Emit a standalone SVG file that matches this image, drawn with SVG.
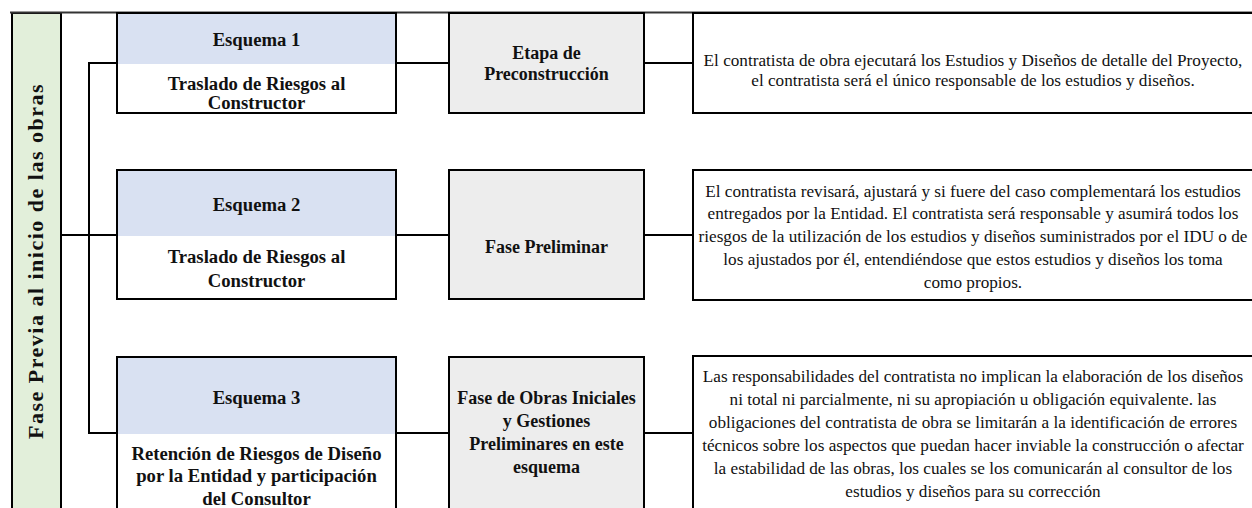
<svg xmlns="http://www.w3.org/2000/svg" width="1252" height="508" viewBox="0 0 1252 508">
<style>
.box{stroke:#000;stroke-width:2;fill:#fff}
.mid{stroke:#000;stroke-width:2;fill:#EDEDED}
.hdr{fill:#D9E1F2}
.con{stroke:#000;stroke-width:2;fill:none}
.lb{font-family:"Liberation Serif","Times New Roman",serif;font-weight:bold;font-size:18.7px;fill:#111;text-anchor:middle}
.mb{font-family:"Liberation Serif","Times New Roman",serif;font-weight:bold;font-size:18px;fill:#111;text-anchor:middle}
.ds{font-family:"Liberation Serif","Times New Roman",serif;font-size:17.2px;fill:#111;text-anchor:middle}
</style>
<rect width="1252" height="508" fill="#fff"/>
<g id="phase">
<rect x="12" y="13" width="49" height="500" fill="#E2EFDA" stroke="#000" stroke-width="2"/>
<text transform="translate(43,261) rotate(-90)" style="font-family:'Liberation Serif','Times New Roman',serif;font-weight:bold;font-size:22px;letter-spacing:1.5px;fill:#111;text-anchor:middle">Fase Previa al inicio de las obras</text>
</g>
<line x1="10" y1="12.5" x2="1252" y2="12.5" stroke="#333" stroke-width="2"/>
<g id="connectors">
<path class="con" d="M117 63H89V433H117"/>
<path class="con" d="M61 235H117"/>
<path class="con" d="M396 63H449M644 63H693"/>
<path class="con" d="M396 235H449M644 235H693"/>
<path class="con" d="M396 433H449M644 433H693"/>
</g>
<g id="esquema1">
<rect class="box" x="117" y="13" width="279" height="100"/>
<rect class="hdr" x="118" y="14" width="277" height="50"/>
<text class="lb" x="256.5" y="46">Esquema 1</text>
<text class="lb" x="256.5" y="89.5">Traslado de Riesgos al</text>
<text class="lb" x="256.5" y="109">Constructor</text>
</g>
<g id="etapa1">
<rect class="mid" x="449" y="13" width="195" height="100"/>
<text class="mb" x="546.5" y="59">Etapa de</text>
<text class="mb" x="546.5" y="80">Preconstrucción</text>
</g>
<g id="desc1">
<rect class="box" x="693" y="13" width="570" height="100"/>
<text class="ds" x="973" y="66">El contratista de obra ejecutará los Estudios y Diseños de detalle del Proyecto,</text>
<text class="ds" x="973" y="86">el contratista será el único responsable de los estudios y diseños.</text>
</g>
<g id="esquema2">
<rect class="box" x="117" y="170" width="279" height="129"/>
<rect class="hdr" x="118" y="171" width="277" height="65"/>
<text class="lb" x="256.5" y="211">Esquema  2</text>
<text class="lb" x="256.5" y="263">Traslado de Riesgos al</text>
<text class="lb" x="256.5" y="287">Constructor</text>
</g>
<g id="etapa2">
<rect class="mid" x="449" y="170" width="195" height="129"/>
<text class="mb" x="546.5" y="253">Fase Preliminar</text>
</g>
<g id="desc2">
<rect class="box" x="693" y="170" width="570" height="130"/>
<text class="ds" x="973" y="197">El contratista revisará, ajustará y si fuere del caso complementará los estudios</text>
<text class="ds" x="973" y="219">entregados por la Entidad. El contratista será responsable y asumirá todos los</text>
<text class="ds" x="973" y="242">riesgos de la utilización de los estudios y diseños suministrados por el IDU o de</text>
<text class="ds" x="973" y="265">los ajustados por él, entendiéndose que estos estudios y diseños los toma</text>
<text class="ds" x="973" y="288">como propios.</text>
</g>
<g id="esquema3">
<rect class="box" x="117" y="357" width="279" height="170"/>
<rect class="hdr" x="118" y="358" width="277" height="76"/>
<text class="lb" x="256.5" y="404">Esquema 3</text>
<text class="lb" x="256.5" y="460">Retención de Riesgos de Diseño</text>
<text class="lb" x="256.5" y="482">por la Entidad y participación</text>
<text class="lb" x="256.5" y="505">del Consultor</text>
</g>
<g id="etapa3">
<rect class="mid" x="449" y="357" width="195" height="170"/>
<text class="mb" x="546.5" y="404">Fase de Obras Iniciales</text>
<text class="mb" x="546.5" y="427">y Gestiones</text>
<text class="mb" x="546.5" y="450">Preliminares en este</text>
<text class="mb" x="546.5" y="473">esquema</text>
</g>
<g id="desc3">
<rect class="box" x="693" y="356" width="570" height="170"/>
<text class="ds" x="973" y="382">Las responsabilidades del contratista no implican la elaboración de los diseños</text>
<text class="ds" x="973" y="405">ni total ni parcialmente, ni su apropiación u obligación equivalente. las</text>
<text class="ds" x="973" y="428">obligaciones del contratista de obra se limitarán a la identificación de errores</text>
<text class="ds" x="973" y="451">técnicos sobre los aspectos que puedan hacer inviable la construcción o afectar</text>
<text class="ds" x="973" y="474">la estabilidad de las obras, los cuales se los comunicarán al consultor de los</text>
<text class="ds" x="973" y="497">estudios y diseños para su corrección</text>
</g>
</svg>
